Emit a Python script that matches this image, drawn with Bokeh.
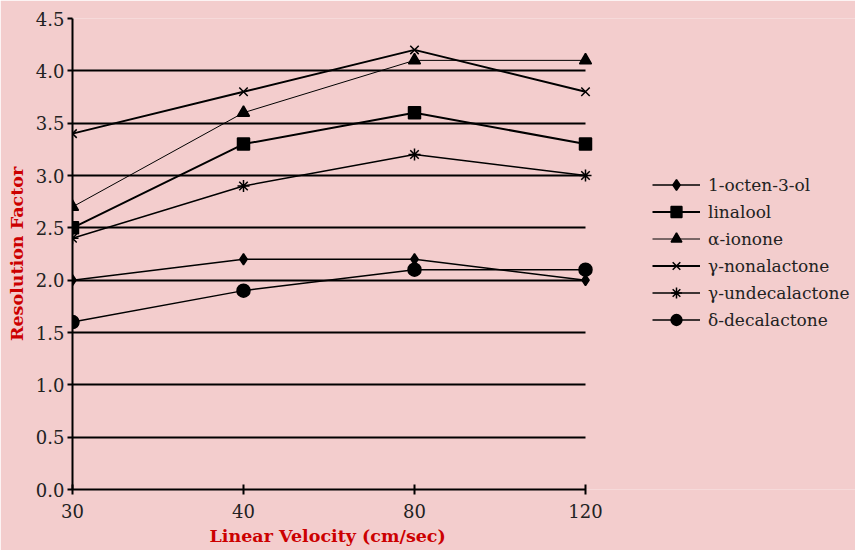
from bokeh.plotting import figure
from bokeh.models import Legend, LegendItem, Range1d, FixedTicker, SingleIntervalTicker, PrintfTickFormatter, Title
from bokeh.embed import file_html
from bokeh.resources import INLINE

velocities = ["30", "40", "80", "120"]
octenol = [2.0, 2.2, 2.2, 2.0]
linalool = [2.5, 3.3, 3.6, 3.3]
ionone = [2.7, 3.6, 4.1, 4.1]
nonalactone = [3.4, 3.8, 4.2, 3.8]
undecalactone = [2.4, 2.9, 3.2, 3.0]
decalactone = [1.6, 1.9, 2.1, 2.1]

names = ["1-octen-3-ol", "linalool", "\u03b1-ionone", "\u03b3-nonalactone", "\u03b3-undecalactone", "\u03b4-decalactone"]
series = [octenol, linalool, ionone, nonalactone, undecalactone, decalactone]
markers = ["diamond", "square", "triangle", "x", "asterisk", "circle"]
sizes = [11, 12, 12, 12, 12, 13]
lwidths = [1.5, 2, 1, 2, 1.5, 1.5]

BG = "#f3cdcd"
FONT = "DejaVu Serif"

W, H = 855, 550
LEFT, TOP, BOTTOM = 72, 18, 61
PLOT_W = 513  # width of the plotted data area in px
last = len(velocities) - 1
x_end = last * (W - LEFT) / PLOT_W  # extend range so the legend sits inside the frame

p = figure(width=W, height=H, output_backend="svg", toolbar_location=None,
           x_range=Range1d(0, x_end), y_range=Range1d(0, 4.5),
           min_border_left=LEFT, min_border_right=0, min_border_top=TOP, min_border_bottom=BOTTOM)
p.background_fill_color = BG
p.border_fill_color = BG
p.outline_line_color = None

xs = list(range(len(velocities)))
items = []
for name, ys, m, s, lw in zip(names, series, markers, sizes, lwidths):
    r1 = p.line(xs, ys, line_color="black", line_width=lw)
    r2 = p.scatter(xs, ys, marker=m, size=s, fill_color="black", line_color="black", line_width=1.5)
    items.append(LegendItem(label=name, renderers=[r1, r2]))

p.xaxis.ticker = FixedTicker(ticks=xs)
p.xaxis.major_label_overrides = {i: v for i, v in enumerate(velocities)}
p.xaxis.bounds = (0, last)
p.yaxis.ticker = SingleIntervalTicker(interval=0.5)
p.yaxis.formatter = PrintfTickFormatter(format="%.1f")

for ax in [p.xaxis[0], p.yaxis[0]]:
    ax.axis_line_color = "black"
    ax.axis_line_width = 2
    ax.major_tick_line_color = "black"
    ax.major_tick_line_width = 2
    ax.minor_tick_line_color = None
    ax.major_label_text_font = FONT
    ax.major_label_text_font_size = "18px"
    ax.major_label_text_color = "#222222"
    ax.axis_label_text_font = FONT
    ax.axis_label_text_font_style = "bold"
    ax.axis_label_text_font_size = "17.5px"
    ax.axis_label_text_color = "#cc0000"

p.xaxis.major_tick_in = 5
p.xaxis.major_tick_out = 5
p.xaxis.major_label_standoff = 9
p.yaxis.major_tick_in = 0
p.yaxis.major_tick_out = 5
p.yaxis.major_label_standoff = 3
p.yaxis.axis_label = "Resolution Factor"
p.yaxis.axis_label_standoff = 6

xtitle = Title(text="Linear Velocity (cm/sec)", align="left", offset=137, standoff=7,
               text_font=FONT, text_font_style="bold", text_font_size="17.5px",
               text_color="#cc0000")
p.add_layout(xtitle, "below")

p.xgrid.grid_line_color = None
p.ygrid.grid_line_color = "black"
p.ygrid.grid_line_width = 2
p.ygrid.ticker = SingleIntervalTicker(interval=0.5)
p.ygrid.cross_bounds = (0, last)

legend = Legend(items=items, location=(580, 156), orientation="vertical",
                background_fill_alpha=0, border_line_color=None,
                padding=0, spacing=0, margin=0,
                glyph_width=48, glyph_height=27, label_height=27,
                label_standoff=8,
                label_text_font=FONT, label_text_font_size="17px", label_text_color="#222222")
p.add_layout(legend, "center")

open("out.html", "w").write(file_html(p, INLINE))
